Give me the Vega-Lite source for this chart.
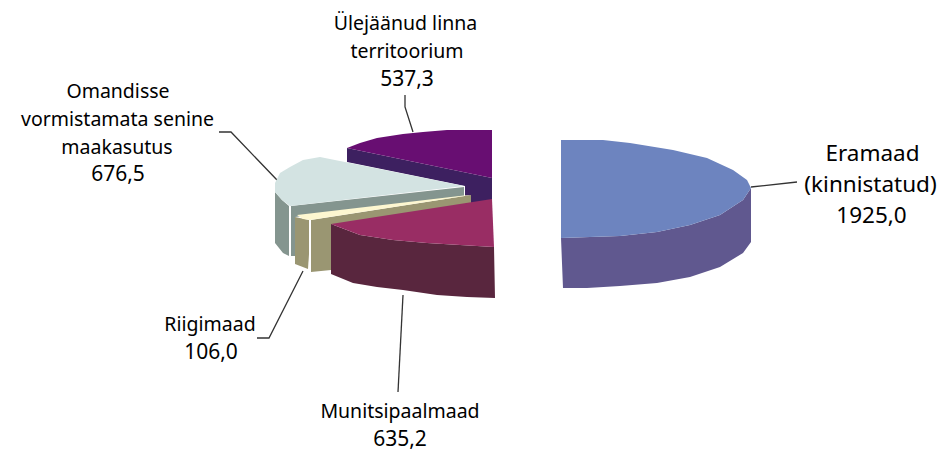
{"$schema":"https://vega.github.io/schema/vega-lite/v6.json","width":942,"height":454,"padding":0,"autosize":{"type":"fit","contains":"padding"},"background":"white","config":{"view":{"stroke":null}},
"datasets":{"shapes":[
{"p":"a_purple_side","i":1,"x":347,"y":148},{"p":"a_purple_side","i":2,"x":492,"y":178},{"p":"a_purple_side","i":3,"x":492,"y":205},{"p":"a_purple_side","i":4,"x":465,"y":205},{"p":"a_purple_side","i":5,"x":465,"y":186},{"p":"a_purple_side","i":6,"x":347,"y":162},
{"p":"b_purple_top","i":1,"x":347,"y":148},{"p":"b_purple_top","i":2,"x":360,"y":143},{"p":"b_purple_top","i":3,"x":377,"y":138},{"p":"b_purple_top","i":4,"x":403,"y":134},{"p":"b_purple_top","i":5,"x":423,"y":132},{"p":"b_purple_top","i":6,"x":447,"y":130},{"p":"b_purple_top","i":7,"x":492,"y":130},{"p":"b_purple_top","i":8,"x":492,"y":178},
{"p":"c_grey_front","i":1,"x":275,"y":192},{"p":"c_grey_front","i":2,"x":282,"y":200},{"p":"c_grey_front","i":3,"x":289,"y":206},{"p":"c_grey_front","i":4,"x":289,"y":256},{"p":"c_grey_front","i":5,"x":283,"y":253},{"p":"c_grey_front","i":6,"x":275,"y":243},
{"p":"d_grey_side","i":1,"x":291,"y":206},{"p":"d_grey_side","i":2,"x":464,"y":187},{"p":"d_grey_side","i":3,"x":464,"y":196},{"p":"d_grey_side","i":4,"x":295,"y":217},{"p":"d_grey_side","i":5,"x":295,"y":256},{"p":"d_grey_side","i":6,"x":291,"y":256},
{"p":"e_grey_top","i":1,"x":464,"y":186},{"p":"e_grey_top","i":2,"x":320,"y":157},{"p":"e_grey_top","i":3,"x":303,"y":160},{"p":"e_grey_top","i":4,"x":290,"y":167},{"p":"e_grey_top","i":5,"x":280,"y":173},{"p":"e_grey_top","i":6,"x":275,"y":183},{"p":"e_grey_top","i":7,"x":275,"y":192},{"p":"e_grey_top","i":8,"x":282,"y":200},{"p":"e_grey_top","i":9,"x":290,"y":206},
{"p":"f_tan_left","i":1,"x":295,"y":217},{"p":"f_tan_left","i":2,"x":309,"y":220},{"p":"f_tan_left","i":3,"x":309,"y":254},{"p":"f_tan_left","i":4,"x":308,"y":269},{"p":"f_tan_left","i":5,"x":295,"y":264},
{"p":"g_tan_right","i":1,"x":311,"y":220},{"p":"g_tan_right","i":2,"x":471,"y":195},{"p":"g_tan_right","i":3,"x":471,"y":203},{"p":"g_tan_right","i":4,"x":331,"y":225},{"p":"g_tan_right","i":5,"x":331,"y":270},{"p":"g_tan_right","i":6,"x":311,"y":272},
{"p":"h_yellow_top","i":1,"x":297,"y":215},{"p":"h_yellow_top","i":2,"x":468,"y":195},{"p":"h_yellow_top","i":3,"x":471,"y":195},{"p":"h_yellow_top","i":4,"x":310,"y":220},{"p":"h_yellow_top","i":5,"x":303,"y":219},
{"p":"i_maroon_side","i":1,"x":331,"y":224},{"p":"i_maroon_side","i":2,"x":360,"y":235},{"p":"i_maroon_side","i":3,"x":393,"y":240},{"p":"i_maroon_side","i":4,"x":427,"y":243},{"p":"i_maroon_side","i":5,"x":460,"y":245},{"p":"i_maroon_side","i":6,"x":494,"y":247},{"p":"i_maroon_side","i":7,"x":495,"y":298},{"p":"i_maroon_side","i":8,"x":467,"y":297},{"p":"i_maroon_side","i":9,"x":437,"y":295},{"p":"i_maroon_side","i":10,"x":403,"y":290},{"p":"i_maroon_side","i":11,"x":377,"y":287},{"p":"i_maroon_side","i":12,"x":353,"y":283},{"p":"i_maroon_side","i":13,"x":331,"y":274},
{"p":"j_magenta_top","i":1,"x":492,"y":199},{"p":"j_magenta_top","i":2,"x":494,"y":247},{"p":"j_magenta_top","i":3,"x":460,"y":245},{"p":"j_magenta_top","i":4,"x":427,"y":243},{"p":"j_magenta_top","i":5,"x":393,"y":240},{"p":"j_magenta_top","i":6,"x":360,"y":235},{"p":"j_magenta_top","i":7,"x":331,"y":224},
{"p":"k_blue_side","i":1,"x":561,"y":238},{"p":"k_blue_side","i":2,"x":590,"y":237},{"p":"k_blue_side","i":3,"x":620,"y":236},{"p":"k_blue_side","i":4,"x":657,"y":232},{"p":"k_blue_side","i":5,"x":690,"y":225},{"p":"k_blue_side","i":6,"x":720,"y":215},{"p":"k_blue_side","i":7,"x":743,"y":200},{"p":"k_blue_side","i":8,"x":751,"y":188},{"p":"k_blue_side","i":9,"x":751,"y":242},{"p":"k_blue_side","i":10,"x":743,"y":253},{"p":"k_blue_side","i":11,"x":720,"y":267},{"p":"k_blue_side","i":12,"x":690,"y":277},{"p":"k_blue_side","i":13,"x":657,"y":283},{"p":"k_blue_side","i":14,"x":620,"y":286},{"p":"k_blue_side","i":15,"x":587,"y":288},{"p":"k_blue_side","i":16,"x":563,"y":288},
{"p":"l_blue_top","i":1,"x":561,"y":140},{"p":"l_blue_top","i":2,"x":603,"y":140},{"p":"l_blue_top","i":3,"x":630,"y":143},{"p":"l_blue_top","i":4,"x":673,"y":150},{"p":"l_blue_top","i":5,"x":707,"y":158},{"p":"l_blue_top","i":6,"x":733,"y":170},{"p":"l_blue_top","i":7,"x":747,"y":180},{"p":"l_blue_top","i":8,"x":751,"y":188},{"p":"l_blue_top","i":9,"x":743,"y":200},{"p":"l_blue_top","i":10,"x":720,"y":215},{"p":"l_blue_top","i":11,"x":690,"y":225},{"p":"l_blue_top","i":12,"x":657,"y":232},{"p":"l_blue_top","i":13,"x":620,"y":236},{"p":"l_blue_top","i":14,"x":590,"y":237},{"p":"l_blue_top","i":15,"x":561,"y":238}
],
"leaders":[
{"s":"Eramaad","i":1,"x":751,"y":187},{"s":"Eramaad","i":2,"x":797,"y":182},
{"s":"Ylej","i":1,"x":413,"y":132},{"s":"Ylej","i":2,"x":405,"y":107},{"s":"Ylej","i":3,"x":405,"y":95},
{"s":"Omandisse","i":1,"x":277,"y":180},{"s":"Omandisse","i":2,"x":231,"y":132},{"s":"Omandisse","i":3,"x":219,"y":132},
{"s":"Riigi","i":1,"x":303,"y":271},{"s":"Riigi","i":2,"x":269,"y":338},{"s":"Riigi","i":3,"x":257,"y":338},
{"s":"Muni","i":1,"x":403,"y":295},{"s":"Muni","i":2,"x":398,"y":392}
],
"labels":[
{"t":"Ülejäänud linna","k":"body","x":405.5,"y":24},{"t":"territoorium","k":"body","x":407,"y":52},{"t":"537,3","k":"number","x":407,"y":80},
{"t":"Omandisse","k":"body","x":118,"y":92},{"t":"vormistamata senine","k":"body","x":117.5,"y":120},{"t":"maakasutus","k":"body","x":117,"y":148},{"t":"676,5","k":"number","x":118,"y":175},
{"t":"Eramaad","k":"right","x":872.5,"y":154},{"t":"(kinnistatud)","k":"right","x":870.5,"y":185},{"t":"1925,0","k":"rightnumber","x":871.5,"y":216},
{"t":"Riigimaad","k":"body","x":210,"y":325},{"t":"106,0","k":"number","x":211,"y":353},
{"t":"Munitsipaalmaad","k":"body","x":400,"y":412},{"t":"635,2","k":"number","x":400,"y":440}
]},
"layer":[
{"data":{"name":"leaders"},"mark":{"type":"line","stroke":"#333333","strokeWidth":1.3},"encoding":{"x":{"field":"x","type":"quantitative","scale":{"domain":[0,942],"nice":false,"zero":false},"axis":null},"y":{"field":"y","type":"quantitative","scale":{"domain":[0,454],"reverse":true,"nice":false,"zero":false},"axis":null},"detail":{"field":"s"},"order":{"field":"i"}}},
{"data":{"name":"shapes"},"mark":{"type":"line","filled":true,"strokeWidth":0,"interpolate":"linear"},"encoding":{"x":{"field":"x","type":"quantitative","scale":{"domain":[0,942],"nice":false,"zero":false},"axis":null},"y":{"field":"y","type":"quantitative","scale":{"domain":[0,454],"reverse":true,"nice":false,"zero":false},"axis":null},"order":{"field":"i"},"color":{"field":"p","type":"nominal","legend":null,"scale":{"domain":["a_purple_side","b_purple_top","c_grey_front","d_grey_side","e_grey_top","f_tan_left","g_tan_right","h_yellow_top","i_maroon_side","j_magenta_top","k_blue_side","l_blue_top"],"range":["#3d2060","#680e72","#84958f","#84958f","#d3e3e2","#9a9672","#9a9672","#fdf7d0","#59263e","#992d64","#60588f","#6d84bf"]}}}},
{"data":{"name":"labels"},"mark":{"type":"text","font":"Noto Sans","align":"center","baseline":"middle","color":"#000000"},"encoding":{"x":{"field":"x","type":"quantitative","scale":{"domain":[0,942],"nice":false,"zero":false},"axis":null},"y":{"field":"y","type":"quantitative","scale":{"domain":[0,454],"reverse":true,"nice":false,"zero":false},"axis":null},"text":{"field":"t"},"size":{"field":"k","type":"nominal","legend":null,"scale":{"type":"ordinal","domain":["body","number","right","rightnumber"],"range":[19.5,21,22.5,22.5]}}}}
]}
